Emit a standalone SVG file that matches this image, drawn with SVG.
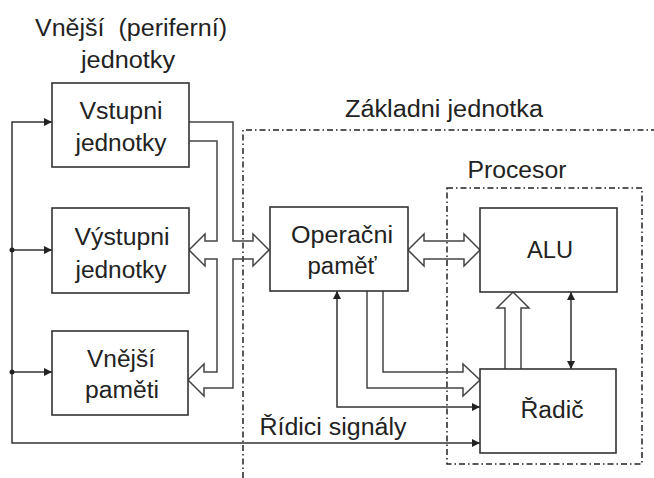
<svg xmlns="http://www.w3.org/2000/svg" width="654" height="478" viewBox="0 0 654 478">
<defs>
<style>
.box{fill:#fff;stroke:#333;stroke-width:1.6}
.t{font-family:"Liberation Sans",Arial,sans-serif;font-size:23px;fill:#222;text-anchor:middle}
.ln{fill:none;stroke:#333;stroke-width:1.5}
.hol{fill:none;stroke:#444;stroke-width:1.5;stroke-linejoin:miter}
.dd{fill:none;stroke:#222;stroke-width:1.5;stroke-dasharray:6 3 1.5 3}
</style>
<marker id="ah" viewBox="0 0 10 10" refX="10" refY="5" markerWidth="9" markerHeight="8" markerUnits="userSpaceOnUse" orient="auto-start-reverse"><path d="M0,0 L10,5 L0,10 z" fill="#222"/></marker>
</defs>
<rect width="654" height="478" fill="#fff"/>

<g id="frames">
<path class="dd" d="M243,478 V130 H654"/>
<rect class="dd" x="447" y="188" width="195" height="276"/>
<text class="t" x="444" y="117" textLength="198" lengthAdjust="spacingAndGlyphs">Základni jednotka</text>
<text class="t" x="517" y="178" textLength="99" lengthAdjust="spacingAndGlyphs">Procesor</text>
<text class="t" x="131" y="36" xml:space="preserve" textLength="192" lengthAdjust="spacingAndGlyphs">Vnější  (periferní)</text>
<text class="t" x="128" y="68" textLength="94" lengthAdjust="spacingAndGlyphs">jednotky</text>
</g>

<g id="connectors">
<path class="ln" d="M52,122 H12 V443 H480" marker-start="url(#ah)" marker-end="url(#ah)"/>
<path class="ln" d="M12,250 H52" marker-end="url(#ah)"/>
<path class="ln" d="M12,372 H52" marker-end="url(#ah)"/>
<circle cx="12" cy="250" r="2.5" fill="#222"/>
<circle cx="12" cy="372" r="2.5" fill="#222"/>
<path class="ln" d="M337,291 V407 H480" marker-start="url(#ah)" marker-end="url(#ah)"/>
<path class="ln" d="M571,292 V369" marker-start="url(#ah)" marker-end="url(#ah)"/>
<path class="hol" d="M189,122 H233 V241 H253 V234 L269,250 L253,266 V259 H233 V388 H204 V396 L188,380 L204,364 V372 H217 V259 H205 V266 L189,250 L205,234 V241 H217 V141 H189"/>
<path class="hol" d="M424,241 H464 V234 L480,250 L464,266 V259 H424 V266 L408,250 L424,234 Z"/>
<path class="hol" d="M383,291 V372 H463 V364 L480,380 L463,396 V388 H367 V291"/>
<path class="hol" d="M505,369 V308 H497 L513,292 L529,308 H521 V369"/>
<text class="t" x="333" y="435" textLength="147" lengthAdjust="spacingAndGlyphs">Řídici signály</text>
</g>

<g id="vstupni">
<rect class="box" x="52" y="83" width="137" height="84"/>
<text class="t" x="121" y="119" textLength="83" lengthAdjust="spacingAndGlyphs">Vstupni</text>
<text class="t" x="121" y="151" textLength="91" lengthAdjust="spacingAndGlyphs">jednotky</text>
</g>
<g id="vystupni">
<rect class="box" x="52" y="208" width="137" height="85"/>
<text class="t" x="122" y="245" textLength="95" lengthAdjust="spacingAndGlyphs">Výstupni</text>
<text class="t" x="121" y="278" textLength="91" lengthAdjust="spacingAndGlyphs">jednotky</text>
</g>
<g id="vnejsi-pameti">
<rect class="box" x="52" y="331" width="136" height="84"/>
<text class="t" x="121" y="367" textLength="68" lengthAdjust="spacingAndGlyphs">Vnější</text>
<text class="t" x="122" y="398" textLength="74" lengthAdjust="spacingAndGlyphs">paměti</text>
</g>
<g id="operacni-pamet">
<rect class="box" x="270" y="207" width="138" height="84"/>
<text class="t" x="342" y="243" textLength="102" lengthAdjust="spacingAndGlyphs">Operačni</text>
<text class="t" x="342" y="274" textLength="69" lengthAdjust="spacingAndGlyphs">paměť</text>
</g>
<g id="alu">
<rect class="box" x="480" y="208" width="137" height="84"/>
<text class="t" x="550" y="258" textLength="46" lengthAdjust="spacingAndGlyphs">ALU</text>
</g>
<g id="radic">
<rect class="box" x="480" y="369" width="136" height="84"/>
<text class="t" x="552" y="418" textLength="63" lengthAdjust="spacingAndGlyphs">Řadič</text>
</g>
</svg>
